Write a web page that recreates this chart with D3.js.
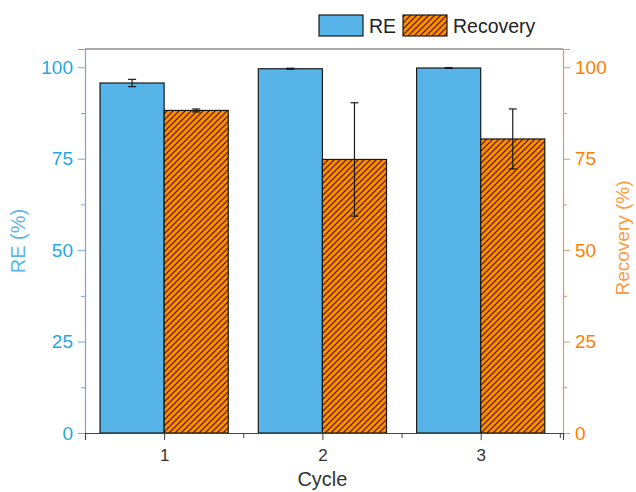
<!DOCTYPE html>
<html>
<head>
<meta charset="utf-8">
<script src="https://cdn.jsdelivr.net/npm/d3@7"></script>
<style>
  body { margin: 0; background: #fff; }
  text { font-family: "Liberation Sans", Arial, sans-serif; }
</style>
</head>
<body>
<svg id="chart" width="636" height="492"></svg>
<script>
// data
const cycles = [1, 2, 3];
const reValues = [95.7, 99.6, 99.8];
const reErrors = [1.0, 0.15, 0.1];
const recoveryValues = [88.2, 74.8, 80.4];
const recoveryErrors = [0.4, 15.5, 8.2];
const yTicks = [0, 25, 50, 75, 100];

const svg = d3.select('#chart');
const margin = { left: 85, right: 73, top: 49, bottom: 59 };
const width = 636 - margin.left - margin.right;
const height = 492 - margin.top - margin.bottom;

const blue = '#56B4E9';
const orange = '#FF8C00';

// hatch pattern for the recovery bars
const defs = svg.append('defs');
const pat = defs.append('pattern')
    .attr('id', 'hatch')
    .attr('patternUnits', 'userSpaceOnUse')
    .attr('width', 6).attr('height', 6);
pat.append('rect').attr('width', 6).attr('height', 6).attr('fill', orange);
pat.append('path')
    .attr('d', 'M-1,1 l2,-2 M0,6 l6,-6 M5,7 l2,-2')
    .attr('stroke', '#2a1a08')
    .attr('stroke-width', 1.1);

const g = svg.append('g').attr('transform', `translate(${margin.left},${margin.top})`);

const x = d3.scaleLinear().domain([0.5, 3.52]).range([0, width]);
const yLeft = d3.scaleLinear().domain([0, 105]).range([height, 0]);
const yRight = d3.scaleLinear().domain([0, 105]).range([height, 0]);
const barW = x(1.405) - x(1);

// bars
g.selectAll('.re-bar').data(cycles).enter().append('rect')
    .attr('class', 're-bar')
    .attr('x', d => x(d) - barW)
    .attr('y', (d, i) => yLeft(reValues[i]))
    .attr('width', barW)
    .attr('height', (d, i) => height - yLeft(reValues[i]))
    .attr('fill', blue)
    .attr('stroke', '#1a1a1a')
    .attr('stroke-width', 1.2);

g.selectAll('.rec-bar').data(cycles).enter().append('rect')
    .attr('class', 'rec-bar')
    .attr('x', d => x(d))
    .attr('y', (d, i) => yRight(recoveryValues[i]))
    .attr('width', barW)
    .attr('height', (d, i) => height - yRight(recoveryValues[i]))
    .attr('fill', 'url(#hatch)')
    .attr('stroke', '#1a1a1a')
    .attr('stroke-width', 1.2);

// error bars
function errorBars(cls, centers, vals, errs, scale) {
    const eg = g.selectAll('.' + cls).data(cycles).enter().append('g')
        .attr('class', cls)
        .attr('stroke', '#1a1a1a')
        .attr('stroke-width', 1.2);
    eg.append('line')
        .attr('x1', (d, i) => centers[i]).attr('x2', (d, i) => centers[i])
        .attr('y1', (d, i) => scale(vals[i] + errs[i]))
        .attr('y2', (d, i) => scale(vals[i] - errs[i]));
    [1, -1].forEach(s => {
        eg.append('line')
            .attr('x1', (d, i) => centers[i] - 4).attr('x2', (d, i) => centers[i] + 4)
            .attr('y1', (d, i) => scale(vals[i] + s * errs[i]))
            .attr('y2', (d, i) => scale(vals[i] + s * errs[i]));
    });
}
errorBars('re-err', cycles.map(d => x(d) - barW / 2), reValues, reErrors, yLeft);
errorBars('rec-err', cycles.map(d => x(d) + barW / 2), recoveryValues, recoveryErrors, yRight);

// frame top
g.append('line').attr('x1', 0).attr('x2', width).attr('y1', 0).attr('y2', 0)
    .attr('stroke', '#555').attr('stroke-width', 1.2);

// left axis
const leftAxis = g.append('g').call(d3.axisLeft(yLeft).tickValues(yTicks).tickSize(7).tickPadding(5));
leftAxis.select('.domain').attr('stroke', '#7fa6c6').attr('stroke-width', 1.2);
leftAxis.selectAll('.tick line').attr('stroke', '#7fa6c6');
leftAxis.selectAll('.tick text').attr('fill', '#1FA8E6').attr('font-size', 19);
g.append('g').call(d3.axisLeft(yLeft).tickValues([12.5, 37.5, 62.5, 87.5]).tickSize(4).tickFormat(''))
    .call(a => a.select('.domain').remove())
    .selectAll('line').attr('stroke', '#7fa6c6');

// right axis
const rightAxis = g.append('g').attr('transform', `translate(${width},0)`)
    .call(d3.axisRight(yRight).tickValues(yTicks).tickSize(7).tickPadding(5));
rightAxis.select('.domain').attr('stroke', '#d99a66').attr('stroke-width', 1.2);
rightAxis.selectAll('.tick line').attr('stroke', '#d99a66');
rightAxis.selectAll('.tick text').attr('fill', '#FF8000').attr('font-size', 19);
g.append('g').attr('transform', `translate(${width},0)`)
    .call(d3.axisRight(yRight).tickValues([12.5, 37.5, 62.5, 87.5]).tickSize(4).tickFormat(''))
    .call(a => a.select('.domain').remove())
    .selectAll('line').attr('stroke', '#d99a66');

// bottom axis
const bottomAxis = g.append('g').attr('transform', `translate(0,${height})`)
    .call(d3.axisBottom(x).tickValues(cycles).tickFormat(d3.format('d')).tickSize(7).tickPadding(9));
bottomAxis.select('.domain').attr('stroke', '#444').attr('stroke-width', 1.2);
bottomAxis.selectAll('.tick line').attr('stroke', '#444');
bottomAxis.selectAll('.tick text').attr('fill', '#333').attr('font-size', 17);
g.append('g').attr('transform', `translate(0,${height})`)
    .call(d3.axisBottom(x).tickValues([0.5, 1.5, 2.5, 3.5]).tickSize(5).tickFormat(''))
    .call(a => a.select('.domain').remove())
    .selectAll('line').attr('stroke', '#444');

// axis titles
svg.append('text')
    .attr('transform', `translate(25,${margin.top + height / 2}) rotate(-90)`)
    .attr('text-anchor', 'middle')
    .attr('fill', '#5DB6EA')
    .attr('font-size', 20)
    .text('RE (%)');
svg.append('text')
    .attr('transform', `translate(629,${margin.top + height / 2 - 3}) rotate(-90)`)
    .attr('text-anchor', 'middle')
    .attr('fill', '#FF9A3C')
    .attr('font-size', 19)
    .text('Recovery (%)');
svg.append('text')
    .attr('x', margin.left + x(2)).attr('y', 486)
    .attr('text-anchor', 'middle')
    .attr('fill', '#333')
    .attr('font-size', 20)
    .text('Cycle');

// legend
const legendItems = [
    { label: 'RE', fill: blue, x: 319 },
    { label: 'Recovery', fill: 'url(#hatch)', x: 403 }
];
const lg = svg.append('g');
legendItems.forEach(it => {
    lg.append('rect')
        .attr('x', it.x).attr('y', 15).attr('width', 44).attr('height', 21)
        .attr('fill', it.fill).attr('stroke', '#1a1a1a').attr('stroke-width', 1.2);
    lg.append('text')
        .attr('x', it.x + 50).attr('y', 33)
        .attr('fill', '#222').attr('font-size', 19.5)
        .text(it.label);
});
</script>
</body>
</html>
